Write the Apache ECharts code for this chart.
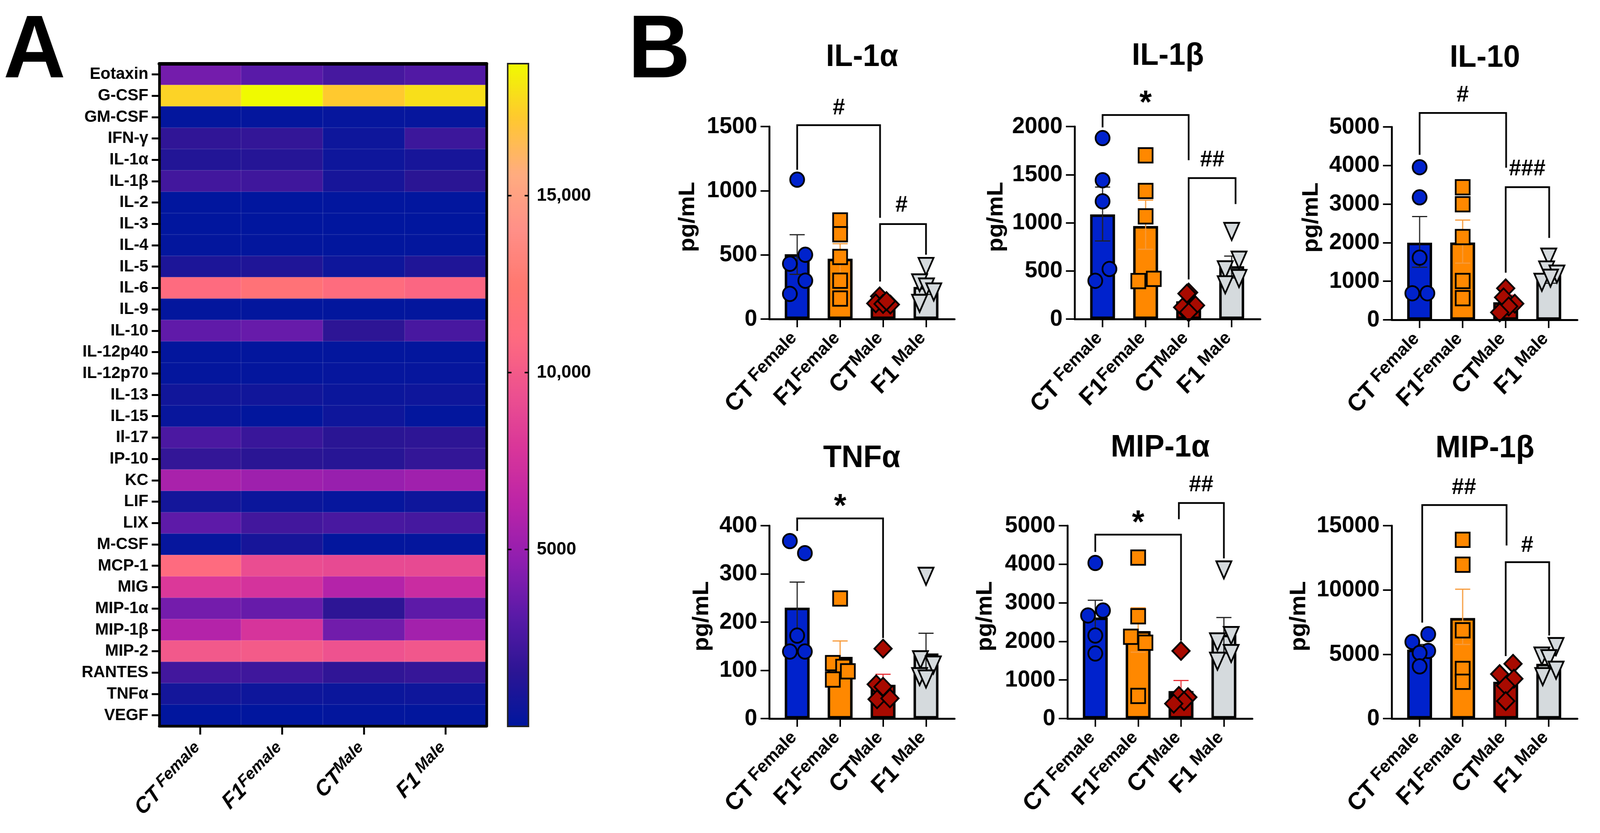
<!DOCTYPE html>
<html>
<head>
<meta charset="utf-8">
<style>html,body{margin:0;padding:0;background:#fff;overflow:hidden}#c{width:4239px;height:2133px;transform-origin:0 0}</style>
<script src="https://cdn.jsdelivr.net/npm/echarts@6/dist/echarts.min.js"></script>
</head>
<body>
<div id="c"></div>
<script>
// ---------- Panel A data ----------
const cytokines = ['Eotaxin','G-CSF','GM-CSF','IFN-γ','IL-1α','IL-1β','IL-2','IL-3','IL-4','IL-5','IL-6','IL-9','IL-10','IL-12p40','IL-12p70','IL-13','IL-15','Il-17','IP-10','KC','LIF','LIX','M-CSF','MCP-1','MIG','MIP-1α','MIP-1β','MIP-2','RANTES','TNFα','VEGF'];
const heatCTF = [3900,17500,100,1700,1200,2300,50,30,100,1000,11000,100,3300,100,150,600,300,2600,1800,5600,700,3200,200,11000,8000,3900,6000,9900,2300,700,50];
const heatF1F = [3100,18730,150,1800,1300,2200,50,30,100,1100,11800,100,3500,100,150,600,80,2000,1500,5200,400,2300,800,9200,7600,3500,7700,10000,2200,500,50];
const heatCTM = [2450,17200,200,500,500,800,70,40,80,500,11100,80,1600,100,200,400,500,1500,1400,5000,200,2500,100,9000,6000,1600,3800,9500,1700,400,100];
const heatF1M = [2800,17900,200,2100,800,1500,60,40,100,1100,10700,100,2500,100,200,500,100,1600,1800,5300,500,2400,150,9000,7000,3200,5400,9800,1900,500,80];
const heatMax = 18730;
const heatColors = ['#00169e','#2c1594','#5a1aa8','#8f1eb0','#bb24a8','#d8359a','#ec5090','#fe6a80','#ff7870','#ff9088','#ffac80','#ffc830','#f0fa00'];
const colorbarTicks = [5000,10000,15000];
const colorbarLabels = ['5000','10,000','15,000'];

// ---------- Group labels ----------
const groupBase = ['CT','F1','CT','F1'];
const groupSup = [' Female','Female','Male',' Male'];
const groupIdx = [0,1,2,3];
const groupFill = ['#0022cc','#ff8800','#a80a00','#d5dadd'];
const errColor = ['#222222','#f79a3a','#e8333a','#222222'];
const groupSymbol = ['circle','rect','diamond','triangle'];

// ---------- Panel B data: means, SEM bounds, points, jitter, brackets ----------
const il1aMean=[505,470,120,250], il1aHigh=[657,587,150,292], il1aLow=[348,358,90,192];
const il1aPts=[[1086,501,431,299,196],[768,661,484,299,160],[177,122,118,113,140],[410,282,250,211,122]];
const il1aJit=[[0,.19,-.17,.19,-.17],[0,0,0,0,0],[-.08,-.17,0,.17,.08],[0,-.15,.01,.18,-.15]];
const il1aBr=[[0,1163,1.93,1511,789],[1.93,292,3,740,501]];
const il1aMarks=[['#',.97,1643],['#',2.43,885]];

const il1bMean=[1087,967,185,549], il1bHigh=[1371,1235,240,654], il1bLow=[811,725,130,427];
const il1bPts=[[1880,1442,1223,520,398],[1701,1331,1067,418,395],[276,265,142,122,71],[910,612,512,421,356]];
const il1bJit=[[0,0,0,.16,-.17],[0,0,0,.19,-.17],[0,-.04,.16,-.14,0],[0,.17,-.15,.17,-.15]];
const il1bBr=[[0,1991,2,2120,1650],[2,412,3.09,1465,1195]];
const il1bMarks=[['*',1,2290],['##',2.55,1650]];

const il10Mean=[2000,2003,455,1172], il10High=[2678,2585,640,1400], il10Low=[1364,1470,270,950];
const il10Pts=[[3956,3175,1612,689,689],[3437,2997,2145,1008,561],[817,582,419,348,192],[1626,1293,1186,973,1080]];
const il10Jit=[[0,0,0,-.17,.18],[0,0,0,0,0],[0,-.05,.21,.07,-.14],[0,-.05,.19,-.16,.04]];
const il10Br=[[0,4276,2.01,5362,3942],[2,1222,3.01,3438,2124]];
const il10Marks=[['#',1,5817],['###',2.5,3906]];

const tnfMean=[230,128,70,135], tnfHigh=[283,161,92,177], tnfLow=[178,100,50,100];
const tnfPts=[[368,343,172,139,139],[249,115,107,98,81],[145,71,66,40,42],[295,122,111,87,82]];
const tnfJit=[[-.17,.18,0,-.17,.18],[0,-.17,.07,.18,-.17],[0,-.16,0,-.14,.16],[0,-.13,.17,-.15,0]];
const tnfBr=[[0,389,2,415,167]];
const tnfMarks=[['*',1,449]];

const mip1aMean=[2620,2267,713,2173], mip1aHigh=[3067,2873,987,2620], mip1aLow=[2220,1720,420,1687];
const mip1aPts=[[4033,2800,2673,2153,1687],[4173,2653,2120,1967,587],[1753,587,553,453,387],[3853,2153,1987,1687,1487]];
const mip1aJit=[[0,.18,-.17,0,0],[0,0,-.17,.17,0],[0,-.05,.16,.07,-.17],[0,.17,-.15,.17,-.15]];
const mip1aBr=[[0,4320,2,4767,2020],[1.95,5167,3,5587,4153]];
const mip1aMarks=[['*',1,5187],['##',2.47,6053]];

const mip1bMean=[5360,7820,2860,4260], mip1bHigh=[5760,10060,3300,4900], mip1bLow=[4960,5760,2500,3860];
const mip1bPts=[[6560,5960,5260,5100,4060],[13900,11960,6860,3860,2860],[4260,3460,3100,2560,1360],[5600,4860,4660,3760,3260]];
const mip1bJit=[[.2,-.17,.2,0,0],[0,0,0,0,0],[.17,-.14,.19,0,0],[.17,-.16,0,.17,-.14]];
const mip1bBr=[[.06,7460,2.02,16600,13460],[2,4860,3.01,12160,6460]];
const mip1bMarks=[['##',1.03,17960],['#',2.5,13460]];

// ---------- Panel layout ----------
const FONT='"Liberation Sans", Arial, sans-serif';
const panels=[
 {title:'IL-1α', tx:2284,ty:147, l:2038,r:2529,t:324,b:817, max:1500,step:500, gap:186, mean:il1aMean,high:il1aHigh,low:il1aLow,pts:il1aPts,jit:il1aJit,br:il1aBr,marks:il1aMarks},
 {title:'IL-1β', tx:3094,ty:144, l:2847,r:3339,t:324,b:817, max:2000,step:500, gap:178, mean:il1bMean,high:il1bHigh,low:il1bLow,pts:il1bPts,jit:il1bJit,br:il1bBr,marks:il1bMarks},
 {title:'IL-10', tx:3934,ty:149, l:3687,r:4179,t:325,b:819, max:5000,step:1000,gap:183, mean:il10Mean,high:il10High,low:il10Low,pts:il10Pts,jit:il10Jit,br:il10Br,marks:il10Marks},
 {title:'TNFα',  tx:2283,ty:1174,l:2038,r:2529,t:1346,b:1840,max:400,step:100, gap:149, mean:tnfMean,high:tnfHigh,low:tnfLow,pts:tnfPts,jit:tnfJit,br:tnfBr,marks:tnfMarks},
 {title:'MIP-1α',tx:3074,ty:1147,l:2828,r:3318,t:1346,b:1840,max:5000,step:1000,gap:188, mean:mip1aMean,high:mip1aHigh,low:mip1aLow,pts:mip1aPts,jit:mip1aJit,br:mip1aBr,marks:mip1aMarks},
 {title:'MIP-1β',tx:3934,ty:1149,l:3687,r:4179,t:1346,b:1840,max:15000,step:5000,gap:216, mean:mip1bMean,high:mip1bHigh,low:mip1bLow,pts:mip1bPts,jit:mip1bJit,br:mip1bBr,marks:mip1bMarks}
];

// ---------- Option ----------
const heatData=[];
[heatCTF,heatF1F,heatCTM,heatF1M].forEach((col,c)=>col.forEach((v,r)=>heatData.push([c,r,v])));

const grids=[
 {left:422,top:163,width:867,height:1696},
 {left:1345,top:163,width:55,height:1697,show:true,borderColor:'#222',borderWidth:4,backgroundColor:'transparent',z:8}
];
const xAxes=[
 {gridIndex:0,type:'category',data:groupIdx,position:'bottom',z:10,
  axisLine:{lineStyle:{color:'#000',width:7}},
  axisTick:{show:true,alignWithLabel:true,length:22,lineStyle:{color:'#000',width:5}},
  axisLabel:{rotate:45,margin:56,interval:0,
    formatter:(v,i)=>'{a|'+groupBase[i]+'}{b|'+groupSup[i]+'}',
    rich:{a:{fontFamily:FONT,fontWeight:'bold',fontStyle:'italic',fontSize:56,color:'#000',lineHeight:64},
          b:{fontFamily:FONT,fontWeight:'bold',fontStyle:'italic',fontSize:42,color:'#000',lineHeight:64,verticalAlign:'top'}}}},
 {gridIndex:0,type:'category',data:groupIdx,position:'top',z:10,
  axisLine:{lineStyle:{color:'#000',width:9}},axisTick:{show:false},axisLabel:{show:false}},
 {gridIndex:1,type:'value',min:0,max:1,show:false}
];
const yAxes=[
 {gridIndex:0,type:'category',data:cytokines,inverse:true,position:'left',z:10,
  axisLine:{lineStyle:{color:'#000',width:7}},
  axisTick:{show:true,alignWithLabel:true,length:20,lineStyle:{color:'#000',width:5}},
  axisLabel:{interval:0,margin:29,fontFamily:FONT,fontWeight:'bold',fontSize:43,color:'#000'}},
 {gridIndex:0,type:'category',data:cytokines,inverse:true,position:'right',z:10,
  axisLine:{lineStyle:{color:'#000',width:7}},axisTick:{show:false},axisLabel:{show:false}},
 {gridIndex:1,type:'value',min:0,max:heatMax,position:'left',z:9,
  axisLine:{show:false},splitLine:{show:false},
  axisTick:{show:true,inside:true,length:10,customValues:colorbarTicks,lineStyle:{color:'#000',width:4}},
  axisLabel:{show:false}},
 {gridIndex:1,type:'value',min:0,max:heatMax,position:'right',z:9,
  axisLine:{show:false},splitLine:{show:false},
  axisTick:{show:true,inside:true,length:10,customValues:colorbarTicks,lineStyle:{color:'#000',width:4}},
  axisLabel:{margin:22,fontFamily:FONT,fontWeight:'bold',fontSize:47,color:'#000',
    customValues:colorbarTicks,
    formatter:v=>colorbarLabels[colorbarTicks.indexOf(v)]}}
];
const series=[
 {type:'heatmap',xAxisIndex:0,yAxisIndex:0,data:heatData,z:2,
  itemStyle:{borderColor:'rgba(255,255,255,0.10)',borderWidth:2},
  emphasis:{disabled:true}}
];
const titles=[
 {text:'A',left:9,top:135,textVerticalAlign:'middle',padding:0,textStyle:{fontFamily:FONT,fontWeight:'bold',fontSize:228,color:'#000'}},
 {text:'B',left:1664,top:135,textVerticalAlign:'middle',padding:0,textStyle:{fontFamily:FONT,fontWeight:'bold',fontSize:228,color:'#000'}}
];

panels.forEach(p=>{
 const g=grids.length;
 grids.push({left:p.l,top:p.t,width:p.r-p.l,height:p.b-p.t});
 titles.push({text:p.title,left:p.tx,top:p.ty,textAlign:'center',textVerticalAlign:'middle',padding:0,
   textStyle:{fontFamily:FONT,fontWeight:'bold',fontSize:80,color:'#000'}});
 const xi=xAxes.length, yi=yAxes.length;
 xAxes.push({gridIndex:g,type:'value',min:-0.65,max:3.665,z:6,splitLine:{show:false},
   axisLine:{show:true,onZero:false,lineStyle:{color:'#000',width:5}},
   axisTick:{show:true,customValues:groupIdx,length:21,lineStyle:{color:'#000',width:4}},
   axisLabel:{customValues:groupIdx,rotate:45,margin:50,hideOverlap:false,
     formatter:v=>'{a|'+groupBase[v]+'}{b|'+groupSup[v]+'}',
     rich:{a:{fontFamily:FONT,fontWeight:'bold',fontSize:62,color:'#000',lineHeight:70},
           b:{fontFamily:FONT,fontWeight:'bold',fontSize:46,color:'#000',lineHeight:70,verticalAlign:'top'}}}});
 yAxes.push({gridIndex:g,type:'value',min:0,max:p.max,interval:p.step,z:6,splitLine:{show:false},
   name:'pg/mL',nameLocation:'middle',nameGap:p.gap,nameRotate:90,nameMoveOverlap:false,
   nameTextStyle:{fontFamily:FONT,fontWeight:'bold',fontSize:60,color:'#000',padding:[0,0,0,30]},
   axisLine:{show:true,onZero:false,lineStyle:{color:'#000',width:5}},
   axisTick:{show:true,length:23,lineStyle:{color:'#000',width:4}},
   axisLabel:{margin:32,fontFamily:FONT,fontWeight:'bold',fontSize:60,color:'#000',formatter:v=>String(v)}});
 // bars
 series.push({type:'bar',xAxisIndex:xi,yAxisIndex:yi,barWidth:66,z:2,
   data:p.mean.map((v,i)=>({value:[i,v],itemStyle:{color:groupFill[i],borderColor:'#000',borderWidth:6.5}}))});
 // error bars
 series.push({type:'custom',xAxisIndex:xi,yAxisIndex:yi,z:3,
   data:p.mean.map((v,i)=>[i,p.low[i],p.high[i]]),
   encode:{x:0,y:[1,2]},
   renderItem:(params,api)=>{
     const hi=api.coord([api.value(0),api.value(2)]);
     const lo=api.coord([api.value(0),api.value(1)]);
     const st={stroke:errColor[params.dataIndex],lineWidth:3,fill:null};
     return {type:'group',children:[
       {type:'line',shape:{x1:hi[0],y1:hi[1],x2:lo[0],y2:lo[1]},style:st},
       {type:'line',shape:{x1:hi[0]-20,y1:hi[1],x2:hi[0]+20,y2:hi[1]},style:st},
       {type:'line',shape:{x1:lo[0]-20,y1:lo[1],x2:lo[0]+20,y2:lo[1]},style:st}]};
   }});
 // individual points
 p.pts.forEach((vals,gi)=>{
   series.push({type:'scatter',xAxisIndex:xi,yAxisIndex:yi,z:4,clip:false,
     symbol:groupSymbol[gi],
     symbolSize:gi===2?[46,46]:(gi===3?[40,44]:[37,37]),
     symbolRotate:gi===3?180:0,
     itemStyle:{color:groupFill[gi],borderColor:'#000',borderWidth:4.5,opacity:1},
     data:vals.map((v,k)=>[gi+p.jit[gi][k],v])});
 });
 // significance brackets
 series.push({type:'custom',xAxisIndex:xi,yAxisIndex:yi,z:5,clip:false,
   data:p.br,encode:{x:[0,2],y:[1,3,4]},
   renderItem:(params,api)=>{
     const a=api.coord([api.value(0),api.value(1)]);
     const b=api.coord([api.value(0),api.value(3)]);
     const c=api.coord([api.value(2),api.value(3)]);
     const d=api.coord([api.value(2),api.value(4)]);
     return {type:'polyline',shape:{points:[a,b,c,d]},style:{stroke:'#000',lineWidth:4.5,fill:null}};
   }});
 // significance marks
 series.push({type:'custom',xAxisIndex:xi,yAxisIndex:yi,z:5,clip:false,
   data:p.marks.map(m=>[m[1],m[2]]),encode:{x:0,y:1},
   renderItem:(params,api)=>{
     const c=api.coord([api.value(0),api.value(1)]);
     const s=p.marks[params.dataIndex][0];
     return {type:'text',x:c[0],y:s==='*'?c[1]+14:c[1],style:{text:s,x:0,y:0,align:'center',verticalAlign:'middle',
       fontFamily:FONT,fontWeight:'bold',fontSize:s==='*'?84:58,fill:'#000'}};
   }});
});

const host=document.getElementById('c');
const chart=echarts.init(host,null,{renderer:'canvas'});
chart.setOption({
 animation:false,
 backgroundColor:'#ffffff',
 title:titles,
 grid:grids,
 xAxis:xAxes,
 yAxis:yAxes,
 visualMap:{type:'continuous',seriesIndex:0,min:0,max:heatMax,calculable:false,hoverLink:false,
   left:1345,top:163,itemWidth:55,itemHeight:1697,padding:0,text:null,showLabel:false,
   textStyle:{fontSize:1,color:'rgba(0,0,0,0)'},formatter:()=>'',
   inRange:{color:heatColors}},
 series:series
});
// The browser viewport can be narrower than the 4239 px design width: fit the drawing to it.
const fitX=Math.min(1,window.innerWidth/4239);
if(fitX<1){host.style.transform='scaleX('+fitX+')';}
</script>
</body>
</html>
